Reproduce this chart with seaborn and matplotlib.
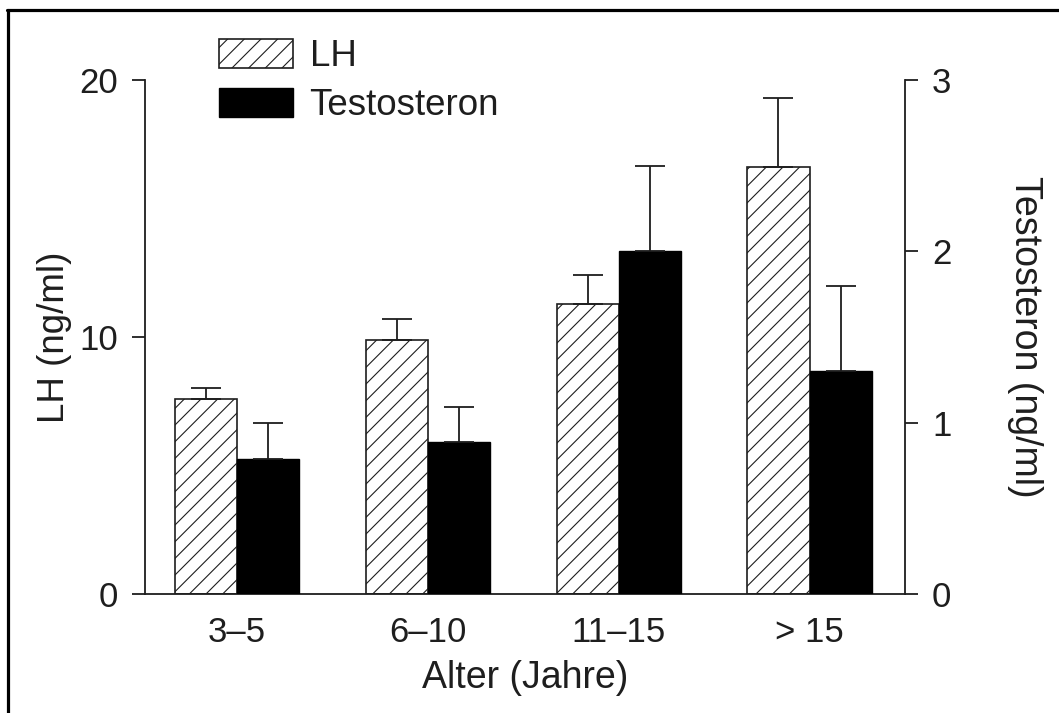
import matplotlib
matplotlib.use('Agg')
import matplotlib.pyplot as plt
import seaborn as sns
import pandas as pd
from matplotlib.patches import Patch
from matplotlib.lines import Line2D

# ---- data ----
groups = ['3–5', '6–10', '11–15', '> 15']
series = ['LH', 'Testosteron']
lh_mean = [7.6, 9.9, 11.3, 16.6]
lh_err = [0.4, 0.8, 1.1, 2.7]
t_mean = [0.79, 0.89, 2.0, 1.30]
t_err = [0.21, 0.20, 0.50, 0.50]
left_ticks = [0, 10, 20]
right_ticks = [0, 1, 2, 3]

sns.set_theme(style='white')
plt.rcParams['font.family'] = ['Liberation Sans', 'DejaVu Sans']
plt.rcParams['hatch.linewidth'] = 0.8

FS = 25
FL = 26.5
INK = '#1e1e1e'

df = pd.DataFrame({
    'Alter': groups * 2,
    'Serie': [series[0]] * len(groups) + [series[1]] * len(groups),
    'Wert': lh_mean + t_mean,
})

fig = plt.figure(figsize=(10.59, 7.13), dpi=100)
ax1 = fig.add_axes([145 / 1059, 1 - 594 / 713, 760 / 1059, 514 / 713])
ax2 = ax1.twinx()

pal = {'LH': 'white', 'Testosteron': 'black'}

sns.barplot(data=df[df.Serie == 'LH'], x='Alter', y='Wert', hue='Serie',
            hue_order=series, order=groups, palette=pal, dodge=True,
            width=0.65, errorbar=None, ax=ax1, legend=False, saturation=1,
            edgecolor=INK, linewidth=1.2, hatch='//')
sns.barplot(data=df[df.Serie == 'Testosteron'], x='Alter', y='Wert', hue='Serie',
            hue_order=series, order=groups, palette=pal, dodge=True,
            width=0.65, errorbar=None, ax=ax2, legend=False, saturation=1,
            edgecolor='black', linewidth=1.0)

# upward-only error bars at the bar tops
for ax, means, errs in ((ax1, lh_mean, lh_err), (ax2, t_mean, t_err)):
    bars = sorted([p for p in ax.patches if p.get_height() > 0], key=lambda p: p.get_x())
    xs = [p.get_x() + p.get_width() / 2 for p in bars]
    ax.errorbar(xs, means, yerr=[[0] * len(errs), errs], fmt='none',
                ecolor=INK, elinewidth=1.3, capsize=11, capthick=1.3, zorder=1)

ax1.set_xlim(-0.48, len(groups) - 0.5)
ax1.set_ylim(0, 20)
ax2.set_ylim(0, 3)
ax1.set_yticks(left_ticks)
ax2.set_yticks(right_ticks)
ax1.set_yticklabels([str(t) for t in left_ticks])
ax2.set_yticklabels([str(t) for t in right_ticks])

for sp in ('top', 'right'):
    ax1.spines[sp].set_visible(False)
for sp in ('top', 'left', 'bottom'):
    ax2.spines[sp].set_visible(False)
for sp in ax1.spines.values():
    sp.set_color(INK); sp.set_linewidth(1.3)
ax2.spines['right'].set_color(INK); ax2.spines['right'].set_linewidth(1.3)

ax1.tick_params(axis='y', left=True, direction='out', length=9.5, width=1.3,
                color=INK, pad=10, labelsize=FS, labelcolor=INK)
ax2.tick_params(axis='y', right=True, direction='out', length=9.5, width=1.3,
                color=INK, pad=10, labelsize=FS, labelcolor=INK)
ax1.tick_params(axis='x', bottom=False, length=0, pad=16, labelsize=FS, labelcolor=INK)

ax1.set_xlabel('Alter (Jahre)', fontsize=FL + 0.5, color=INK, labelpad=8)
ax1.set_ylabel('LH (ng/ml)', fontsize=FL, color=INK, labelpad=5)
ax2.set_ylabel('Testosteron (ng/ml)', fontsize=FL + 0.5, color=INK, rotation=270,
               va='bottom', labelpad=40)

handles = [Patch(facecolor='white', edgecolor=INK, hatch='//', linewidth=1.2, label=series[0]),
           Patch(facecolor='black', edgecolor='black', label=series[1])]
fig.legend(handles=handles, loc='upper left', bbox_to_anchor=(219 / 1059, 1 - 39 / 713),
           frameon=False, fontsize=FL, handlelength=2.0, handleheight=0.85,
           handletextpad=0.46, labelspacing=0.36, borderpad=0, borderaxespad=0,
           labelcolor=INK)

# figure frame (top and left edges)
fig.add_artist(Line2D([7 / 1059, 1], [1 - 10 / 713, 1 - 10 / 713], transform=fig.transFigure,
                      color='black', linewidth=2.3))
fig.add_artist(Line2D([8 / 1059, 8 / 1059], [0, 1 - 10 / 713], transform=fig.transFigure,
                      color='black', linewidth=2.3))

fig.savefig('out.png', dpi=100)
